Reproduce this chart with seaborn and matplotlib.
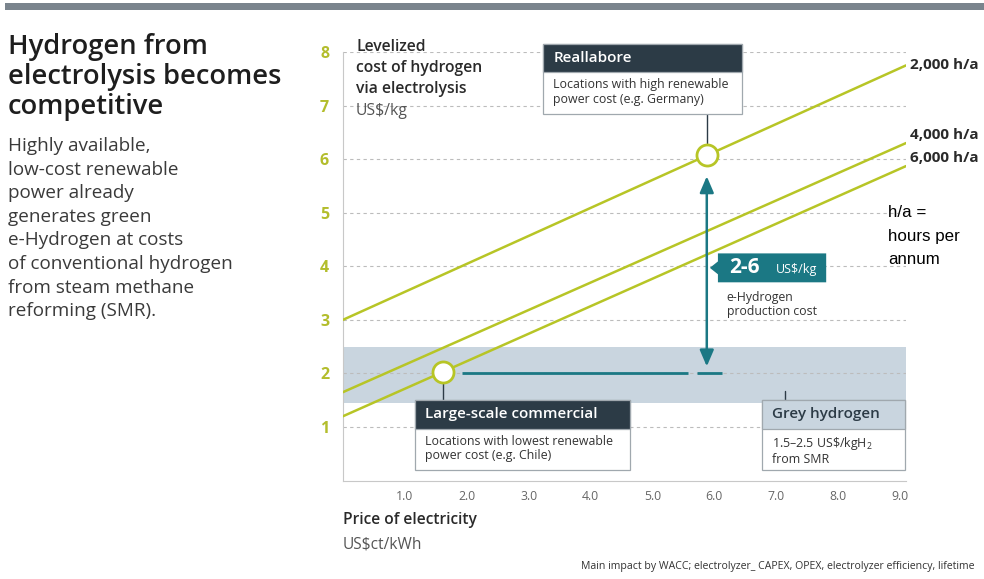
import matplotlib
matplotlib.use("Agg")
import matplotlib.pyplot as plt
from matplotlib.patches import Rectangle, Polygon
import numpy as np
import pandas as pd
import seaborn as sns

# ---------------- data ----------------
series_labels = ["2,000 h/a", "4,000 h/a", "6,000 h/a"]
price_ends = [0.0, 9.1]                      # US$ct/kWh
cost_at_start = [3.0, 1.65, 1.2]             # US$/kg at 0 ct/kWh
cost_at_end = [7.75, 6.3, 5.87]              # US$/kg at 9.1 ct/kWh
marker_price = [5.88, 1.62]
marker_cost = [6.07, 2.03]
grey_band = [1.45, 2.5]                      # grey hydrogen cost range
ehyd_range = [2.13, 5.68]
x_ticks = [1, 2, 3, 4, 5, 6, 7, 8, 9]
x_tick_labels = ["1.0", "2.0", "3.0", "4.0", "5.0", "6.0", "7.0", "8.0", "9.0"]
y_ticks = [1, 2, 3, 4, 5, 6, 7, 8]

rows = []
for lab, c0, c1 in zip(series_labels, cost_at_start, cost_at_end):
    rows.append({"series": lab, "price": price_ends[0], "cost": c0})
    rows.append({"series": lab, "price": price_ends[1], "cost": c1})
df = pd.DataFrame(rows)
pts = pd.DataFrame({"price": marker_price, "cost": marker_cost})

# ---------------- style ----------------
sns.set_style("white")
FONT = ["Open Sans", "DejaVu Sans"]
plt.rcParams["font.family"] = FONT
plt.rcParams["mathtext.fontset"] = "custom"
plt.rcParams["mathtext.rm"] = "Open Sans"

LIME = "#b7c526"
LIME_TXT = "#b3bd2c"
TEAL = "#1b7884"
DARK = "#2c3b46"
BAND = "#c9d5df"
BORDER = "#a0a8ae"
TXT = "#2a2a2a"
GREYTXT = "#555555"

W, H = 984, 579
fig = plt.figure(figsize=(W / 100, H / 100), dpi=100)
fig.patch.set_facecolor("white")

def fx(px):
    return px / W

def fy(py):
    return 1 - py / H

ax = fig.add_axes([fx(343), fy(480.5), fx(906) - fx(343), fy(52) - fy(480.5)])
ax.set_xlim(0, 9.1)
ax.set_ylim(0, 8.0)
ax.set_facecolor("none")

# grey hydrogen band
ax.axhspan(grey_band[0], grey_band[1], xmin=0, xmax=1, color=BAND, zorder=0, lw=0)

# grid
for yv in y_ticks:
    ax.plot([0, 9.1], [yv, yv], color="#bcbcbc", lw=0.8, ls=(0, (3, 3)), zorder=1)

# lines
sns.lineplot(data=df, x="price", y="cost", hue="series",
             palette=[LIME] * 3, lw=1.8, legend=False, ax=ax, zorder=3)

# teal arrow, horizontal line
ax.plot([1.93, 5.57], [2, 2], color=TEAL, lw=2, zorder=2, solid_capstyle="butt")
ax.plot([5.72, 6.12], [2, 2], color=TEAL, lw=2, zorder=2, solid_capstyle="butt")
ax.annotate("", xy=(marker_price[0], ehyd_range[1]), xytext=(marker_price[0], ehyd_range[0]),
            arrowprops=dict(arrowstyle="<|-|>,head_length=0.7,head_width=0.3", color=TEAL, lw=1.8,
                            mutation_scale=14, shrinkA=0, shrinkB=0), zorder=4)

# circles
sns.scatterplot(data=pts, x="price", y="cost", s=230, color="white",
                edgecolor=LIME, linewidth=2, ax=ax, zorder=6, legend=False)

# connectors
ax.plot([5.88, 5.88], [6.84, 6.3], color=DARK, lw=1, zorder=5, clip_on=False)
ax.plot([1.62, 1.62], [1.82, 1.5], color=DARK, lw=1, zorder=5, clip_on=False)
ax.plot([7.14, 7.14], [1.68, 1.5], color=DARK, lw=1, zorder=5, clip_on=False)

# spines / ticks
for s in ["top", "right"]:
    ax.spines[s].set_visible(False)
ax.spines["left"].set_color("#c8c8c8")
ax.spines["bottom"].set_color("#c8c8c8")
ax.spines["left"].set_linewidth(0.8)
ax.spines["bottom"].set_linewidth(0.8)
ax.set_xticks([0] + x_ticks)
ax.set_xticklabels([""] + x_tick_labels, fontsize=8.8, color="#666666")
ax.set_yticks(y_ticks)
ax.set_yticklabels([str(v) for v in y_ticks], fontsize=11.5, color=LIME_TXT, fontweight="bold")
ax.tick_params(axis="x", length=4, color="#c8c8c8", direction="inout", pad=5)
ax.tick_params(axis="y", length=4, color="#c8c8c8", direction="out", pad=6)
ax.set_xlabel("")
ax.set_ylabel("")

# boxes (data coords, not clipped)
def box(x0, x1, ytop, ymid, ybot, title, body, title_bg, title_fc):
    ax.add_patch(Rectangle((x0, ybot), x1 - x0, ytop - ybot, facecolor="white",
                           edgecolor=BORDER, lw=0.9, zorder=7, clip_on=False))
    ax.add_patch(Rectangle((x0, ymid), x1 - x0, ytop - ymid, facecolor=title_bg,
                           edgecolor=BORDER, lw=0.9, zorder=8, clip_on=False))
    ax.text(x0 + 0.17, (ytop + ymid) / 2, title, color=title_fc, fontsize=11,
            fontweight="semibold", va="center", ha="left", zorder=9, clip_on=False)
    ax.text(x0 + 0.17, ymid - 0.12, body, color="#333333", fontsize=8.9,
            va="top", ha="left", zorder=9, linespacing=1.15, clip_on=False)

box(3.23, 6.45, 8.15, 7.63, 6.84, "Reallabore",
    "Locations with high renewable\npower cost (e.g. Germany)", DARK, "white")
box(1.16, 4.64, 1.50, 0.97, 0.19, "Large-scale commercial",
    "Locations with lowest renewable\npower cost (e.g. Chile)", DARK, "white")
box(6.77, 9.08, 1.50, 0.97, 0.19, "Grey hydrogen",
    "1.5\u20132.5 US\\$/kgH$_2$\nfrom SMR", BAND, DARK)

# teal label box with pointer
tb = Polygon([(6.06, 4.24), (7.81, 4.24), (7.81, 3.70), (6.06, 3.70),
              (6.06, 3.85), (5.93, 3.97), (6.06, 4.09)],
             closed=True, facecolor=TEAL, edgecolor="none", zorder=7, clip_on=False)
ax.add_patch(tb)
ax.text(6.24, 3.97, "2-6", color="white", fontsize=15, fontweight="bold",
        va="center", ha="left", zorder=8)
ax.text(7.0, 3.94, "US$/kg", color="white", fontsize=9, va="center", ha="left", zorder=8)
ax.text(6.2, 3.53, "e-Hydrogen\nproduction cost", color="#333333", fontsize=8.8,
        va="top", ha="left", linespacing=1.1, zorder=8)

# series labels at right
for lab, yp in zip(series_labels, [65, 135, 158]):
    fig.text(fx(910), fy(yp), lab, fontsize=11, fontweight="bold", color=TXT,
             va="center", ha="left")

# y-axis title
fig.text(fx(356), fy(39), "Levelized\ncost of hydrogen\nvia electrolysis",
         fontsize=11.3, color=TXT, fontweight="semibold", va="top", ha="left", linespacing=1.42)
fig.text(fx(356), fy(103), "US$/kg", fontsize=11.3, color=GREYTXT, va="top", ha="left")

# x-axis title
fig.text(fx(343), fy(520), "Price of electricity", fontsize=11.2, color=TXT,
         fontweight="semibold", va="center", ha="left")
fig.text(fx(343), fy(545), "US$ct/kWh", fontsize=11.2, color=GREYTXT, va="center", ha="left")

# left title and text
fig.text(fx(8), fy(33), "Hydrogen from\nelectrolysis becomes\ncompetitive",
         fontsize=19.7, fontweight="semibold", color="#1e1e1e", va="top", ha="left",
         linespacing=1.09)
fig.text(fx(8), fy(137), "Highly available,\nlow-cost renewable\npower already\ngenerates green\n"
         "e-Hydrogen at costs\nof conventional hydrogen\nfrom steam methane\nreforming (SMR).",
         fontsize=13.6, color="#3a3a3a", va="top", ha="left", linespacing=1.4)

# hours per annum note
fig.text(fx(888), fy(205), "h/a =\nhours per\nannum", fontsize=12.2, color="black",
         family=["Liberation Sans", "DejaVu Sans"], va="top", ha="left", linespacing=1.72)

# footer
fig.text(fx(581), fy(567),
         "Main impact by WACC; electrolyzer_ CAPEX, OPEX, electrolyzer efficiency, lifetime",
         fontsize=7.6, color="#333333", va="center", ha="left")

# top bar
fig.add_artist(Rectangle((fx(5), fy(9.5)), 1 - fx(5), fy(3.5) - fy(9.5),
                         transform=fig.transFigure, facecolor="#7a848d", edgecolor="none"))

fig.savefig("out.png", dpi=100, facecolor="white")
